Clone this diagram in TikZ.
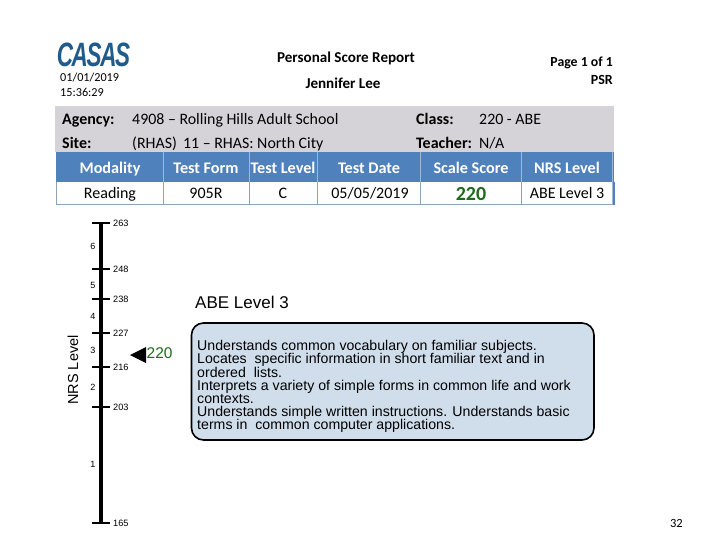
\documentclass[tikz,border=0pt]{standalone}
\usepackage{fontspec}
\setmainfont{Carlito}
\newfontfamily\arialf{Liberation Sans}
\definecolor{hdrblue}{HTML}{4F81BD}
\definecolor{hdrline}{HTML}{9DB8D8}
\definecolor{rowline}{HTML}{8FA3B8}
\definecolor{panelgray}{HTML}{D6D3D8}
\definecolor{boxblue}{HTML}{D0DEEC}
\definecolor{scoregreen}{HTML}{1B6B1B}
\definecolor{logoblue}{HTML}{1F5C8C}
\tikzset{
  repb/.style={inner sep=0pt,anchor=base,font=\fontsize{15.1}{16}\selectfont\bfseries},
  small/.style={inner sep=0pt,anchor=base west,font=\fontsize{12.2}{14}\selectfont},
  panel/.style={inner sep=0pt,anchor=base west,font=\fontsize{15.9}{16}\selectfont},
  panelb/.style={panel,font=\fontsize{16}{16}\selectfont\bfseries},
  hdr/.style={inner sep=0pt,anchor=base,text=white,font=\fontsize{16.2}{16}\selectfont\bfseries},
  cell/.style={inner sep=0pt,anchor=base,font=\fontsize{16}{16}\selectfont},
  ticklab/.style={inner sep=0pt,anchor=west,font=\arialf\fontsize{9.2}{9}\selectfont},
  bandlab/.style={inner sep=0pt,font=\arialf\fontsize{9}{9}\selectfont},
  tickmark/.style={line width=1.7pt,black},
}
\begin{document}
\begin{tikzpicture}[x=1pt,y=-1pt]
\useasboundingbox (0,0) rectangle (720,540);
% logo
\node[inner sep=0pt,text=logoblue,xscale=0.9,yscale=1.35] (logo) at (93.5,54.5) {\arialf\fontsize{25}{25}\selectfont\bfseries\itshape\addfontfeature{LetterSpace=-6}CASAS};
% heading
\node[repb] (title) at (346,63) {Personal Score Report};
\node[repb] (name) at (343,89) {Jennifer Lee};
\node[inner sep=0pt,anchor=base east,font=\fontsize{13.8}{14}\selectfont\bfseries] (page) at (613,67) {Page 1 of 1};
\node[inner sep=0pt,anchor=base east,font=\fontsize{14}{14}\selectfont\bfseries] (psr) at (613,85) {PSR};
\node[small] (date) at (60,82) {01/01/2019};
\node[small] (time) at (60,97) {15:36:29};
% gray panel
\fill[panelgray] (55,106) rectangle (614,152);
\node[panelb] (agency) at (62,124.5) {Agency:};
\node[panel] (agencyv) at (132,124.5) {4908 – Rolling Hills Adult School};
\node[panelb] (site) at (62,149) {Site:};
\node[panel] (sitev) at (132,149) {(RHAS)\, 11 – RHAS: North City};
\node[panelb] (class) at (416,124.5) {Class:};
\node[panel] (classv) at (479,124.5) {220 - ABE};
\node[panelb] (teacher) at (416,149) {Teacher:};
\node[panel] (teacherv) at (479,149) {N/A};
% table
\fill[hdrblue] (56,152) rectangle (614,182);
\fill[white] (56,182) rectangle (612,204);
\draw[rowline,line width=0.8pt] (56,182) -- (56,204) -- (614,204);
\draw[rowline,line width=0.8pt] (163,182) -- (163,204) (249,182) -- (249,204) (317,182) -- (317,204) (420,182) -- (420,204) (521,182) -- (521,204);
\draw[hdrline,line width=0.8pt] (163,152) -- (163,182) (249,152) -- (249,182) (317,152) -- (317,182) (420,152) -- (420,182) (521,152) -- (521,182) (612,152) -- (612,204);
\draw[hdrblue,line width=2pt] (613.5,182) -- (613.5,205);
\node[hdr] (h1) at (110,174) {Modality};
\node[hdr] (h2) at (206,174) {Test Form};
\node[hdr] (h3) at (283,174) {Test Level};
\node[hdr] (h4) at (369,174) {Test Date};
\node[hdr] (h5) at (471,174) {Scale Score};
\node[hdr] (h6) at (567,174) {NRS Level};
\node[cell] (c1) at (110,199) {Reading};
\node[cell] (c2) at (206,199) {905R};
\node[cell] (c3) at (283,199) {C};
\node[cell] (c4) at (370,199) {05/05/2019};
\node[inner sep=0pt,anchor=base,text=scoregreen,font=\fontsize{20}{20}\selectfont\bfseries] (c5) at (471,200.5) {220};
\node[cell] (c6) at (567,199) {ABE Level 3};
% scale
\coordinate (top) at (101,223);
\coordinate (bot) at (101,523);
\draw[black,line width=4pt] (top) -- (bot);
\foreach \v/\y in {263/223,248/269,238/299,227/333,216/367,203/407,165/523}{
  \draw[tickmark] (92,\y) -- (110,\y);
  \node[ticklab] (t\v) at (113,\y) {\v};
}
\foreach \v/\y in {6/246,5/285,4/316,3/350,2/387,1/464}{
  \node[bandlab] (b\v) at (93,\y) {\v};
}
\node[inner sep=0pt,rotate=90,font=\arialf\fontsize{14.5}{14}\selectfont] (nrs) at (73,370) {NRS Level};
% marker
\fill[black] (130,355) -- (146,347) -- (146,363) -- cycle;
\node[inner sep=0pt,anchor=west,text=scoregreen,font=\arialf\fontsize{15.5}{16}\selectfont] (mark) at (146.5,353) {220};
% level box
\node[inner sep=0pt,anchor=west,font=\arialf\fontsize{17}{18}\selectfont] (lvl) at (195,302) {ABE Level 3};
\draw[black,line width=1.6pt,fill=boxblue,rounded corners=12pt] (191.5,323) rectangle (594,440);
\node[inner sep=0pt,anchor=north west,align=left,font=\arialf\fontsize{14.15}{13.2}\selectfont] (desc) at (197,340.2) {Understands common vocabulary on familiar subjects.\\Locates\ \ specific information in short familiar text and in\\ordered\ \ lists.\\Interprets a variety of simple forms in common life and work\\contexts.\\Understands simple written instructions. Understands basic\\terms in\ \ common computer applications.};
% footer
\node[inner sep=0pt,anchor=east,font=\fontsize{12.5}{14}\selectfont] (pg) at (683,523) {32};
\end{tikzpicture}
\end{document}
